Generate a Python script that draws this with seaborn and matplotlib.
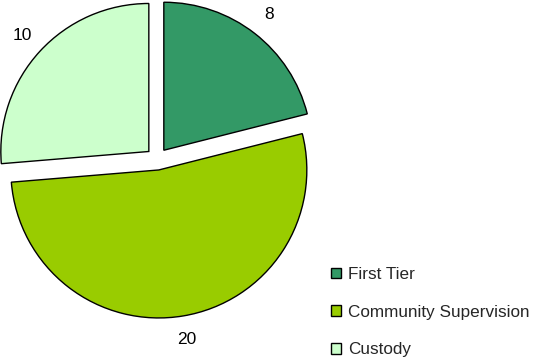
import matplotlib
matplotlib.use("Agg")
import matplotlib.pyplot as plt
from matplotlib.patches import Patch
import seaborn as sns

categories = ["First Tier", "Community Supervision", "Custody"]
values = [8, 20, 10]
colors = ["#339966", "#99CC00", "#CCFFCC"]

sns.set_theme(style="white")
plt.rcParams["font.family"] = ["Liberation Sans", "DejaVu Sans"]

W, H = 533, 358
fig = plt.figure(figsize=(W / 100, H / 100), dpi=100)
ax = fig.add_axes([0, 0, 1, 1])

palette = sns.color_palette(colors)
wedges, texts = ax.pie(
    values,
    labels=[str(v) for v in values],
    colors=palette,
    startangle=90,
    counterclock=False,
    explode=[0.075] * len(values),
    labeldistance=1.16,
    wedgeprops=dict(edgecolor="black", linewidth=1.0),
    textprops=dict(ha="center", va="center", fontsize=12.5, color="black"),
)

# pixel-based limits: pie center at (157, 159) px, radius 148 px
cx, cy, r = 157, 159, 148
ax.set_aspect("auto")
ax.set_xlim((0 - cx) / r, (W - cx) / r)
ax.set_ylim((cy - H) / r, cy / r)
ax.axis("off")

handles = [Patch(facecolor=c, edgecolor="black", linewidth=1.0) for c in palette]
fig.legend(
    handles, categories,
    loc="upper left",
    bbox_to_anchor=(331 / W, 1 - 267 / H),
    frameon=False,
    borderaxespad=0, borderpad=0,
    fontsize=12.3,
    handlelength=0.6, handleheight=0.6,
    handletextpad=0.4,
    labelspacing=1.32,
)

fig.savefig("out.png", dpi=100)
